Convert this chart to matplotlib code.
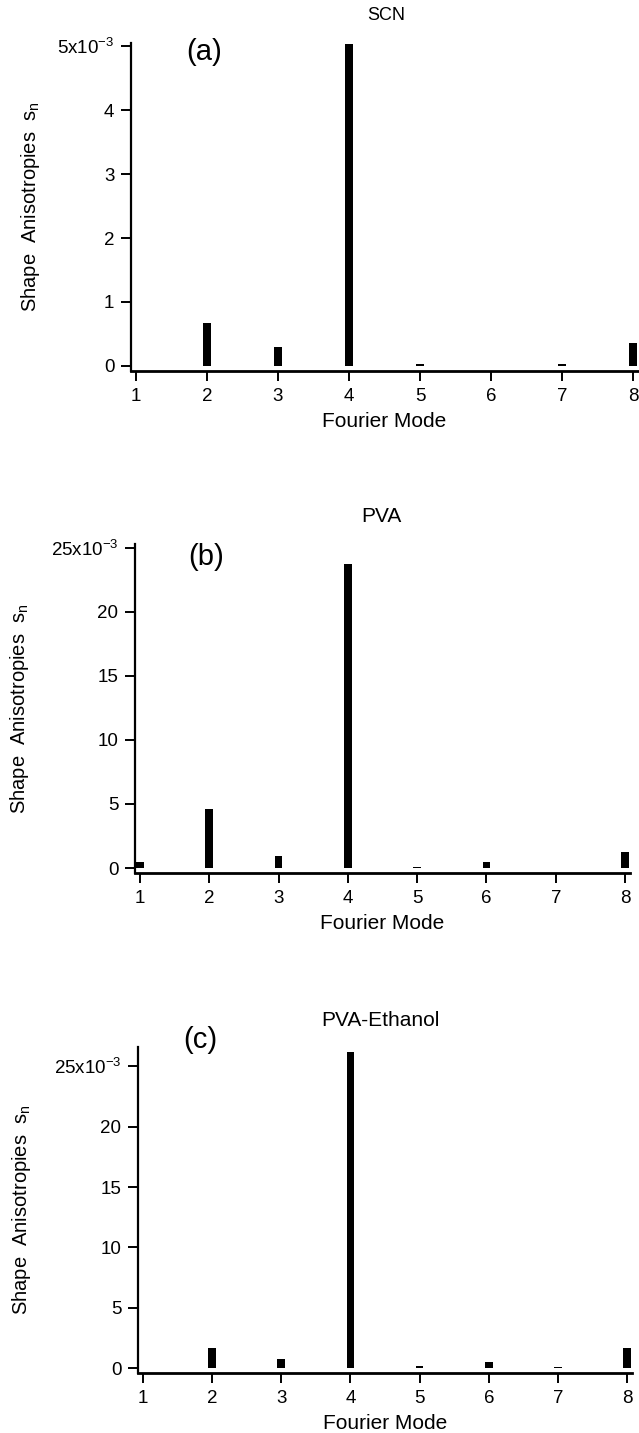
import matplotlib
matplotlib.use("Agg")
import matplotlib.pyplot as plt
from matplotlib.ticker import FixedLocator, FuncFormatter

plt.rcParams.update({
    "font.family": ["Liberation Sans", "DejaVu Sans"],
    "mathtext.fontset": "custom",
    "mathtext.rm": "Liberation Sans",
    "mathtext.it": "Liberation Sans:italic",
    "font.size": 13,
})

W, H = 639, 1433

MODES = [1, 2, 3, 4, 5, 6, 7, 8]
SCN = [0.0, 0.67, 0.30, 5.04, 0.03, 0.0, 0.03, 0.36]
PVA = [0.47, 4.6, 0.94, 23.7, 0.10, 0.47, 0.0, 1.25]
PVA_ETH = [0.0, 1.65, 0.72, 26.2, 0.15, 0.50, 0.12, 1.65]

SCN_TICKS = [0, 1, 2, 3, 4, 5]
PVA_TICKS = [0, 5, 10, 15, 20, 25]

TITLES = ["SCN", "PVA", "PVA-Ethanol"]
TAGS = ["(a)", "(b)", "(c)"]

# pixel layout: left, right, top, bottom, ylim, title xy + size, tag xy, ylabel x
PANELS = [
    dict(box=(131, 638, 43, 371), ylim=(-0.08, 5.05), title=(386, 16, 13), tag=(204, 52), ylab=31),
    dict(box=(135, 630, 544, 873), ylim=(-0.39, 25.3), title=(381, 517, 15), tag=(206, 557), ylab=20),
    dict(box=(138, 632, 1047, 1373), ylim=(-0.41, 26.6), title=(380, 1020, 15), tag=(200, 1040), ylab=22),
]

fig = plt.figure(figsize=(W / 100, H / 100), dpi=100)


def fx(px):
    return px / W


def fy(py):
    return 1 - py / H


def draw(p, values, ticks, title, tag):
    l, r, t, b = p["box"]
    ax = fig.add_axes([fx(l), fy(b), fx(r) - fx(l), fy(t) - fy(b)])
    ax.bar(MODES, values, width=0.11, color="black", linewidth=0)
    ax.set_xlim(0.93, 8.07)
    ax.set_ylim(*p["ylim"])
    ax.xaxis.set_major_locator(FixedLocator(MODES))
    ax.yaxis.set_major_locator(FixedLocator(ticks))
    top = ticks[-1]
    ax.yaxis.set_major_formatter(FuncFormatter(
        lambda v, pos: f"{int(v)}x10$^{{-3}}$" if v == top else f"{int(v)}"))
    for s in ("top", "right"):
        ax.spines[s].set_visible(False)
    ax.spines["left"].set_linewidth(1.6)
    ax.spines["bottom"].set_linewidth(2.0)
    ax.tick_params(length=7, width=1.4, pad=5, labelsize=13.5)
    ax.set_xlabel("Fourier Mode", fontsize=15, labelpad=5)
    fig.text(fx(p["ylab"]), fy((t + b) / 2), "Shape  Anisotropies  s$_\\mathrm{n}$",
             rotation=90, ha="center", va="center", fontsize=14.5)
    tx, ty, ts = p["title"]
    fig.text(fx(tx), fy(ty), title, ha="center", va="center", fontsize=ts)
    fig.text(fx(p["tag"][0]), fy(p["tag"][1]), tag, ha="center", va="center",
             fontsize=21)
    return ax


draw(PANELS[0], SCN, SCN_TICKS, TITLES[0], TAGS[0])
draw(PANELS[1], PVA, PVA_TICKS, TITLES[1], TAGS[1])
draw(PANELS[2], PVA_ETH, PVA_TICKS, TITLES[2], TAGS[2])

fig.savefig("out.png", dpi=100)
